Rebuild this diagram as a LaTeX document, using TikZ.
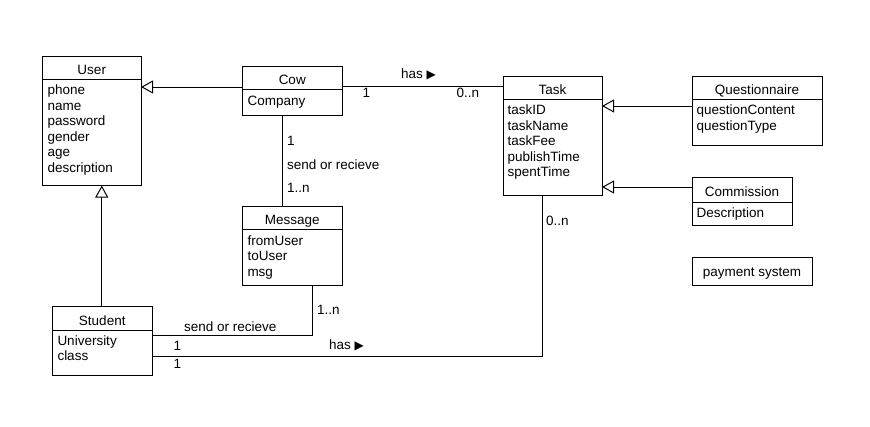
\documentclass[tikz,border=0pt]{standalone}
\usepackage{fontspec}
\setmainfont{Liberation Sans}
\newfontfamily\dv{DejaVu Sans}
\usetikzlibrary{arrows.meta}
\newcommand{\hasarrow}{{\dv\fontsize{12}{14}\selectfont ▶}}
\begin{document}
\begin{tikzpicture}[x=1pt,y=-1pt,
  every node/.style={font=\fontsize{13.5}{15.6}\selectfont, inner sep=0pt, outer sep=0pt},
  box/.style={draw, line width=1pt, rectangle, anchor=north west},
  ttl/.style={anchor=base},
  attr/.style={anchor=base west},
  lbl/.style={anchor=base west},
  conn/.style={line width=1pt},
  gen/.style={line width=1pt, -{Triangle[open,length=12pt,width=13pt,line width=1pt]}}
]
\useasboundingbox (0,0) rectangle (870,426);
\fill[white] (0,0) rectangle (870,426);

% User
\node[box, minimum width=98.5pt, minimum height=129.5pt] (user) at (42.5,56) {};
\draw[line width=1pt] (42.5,79) -- (141,79);
\node[ttl] (userT) at (91.75,74) {User};
\node[attr] (u1) at (47.5,94.5) {phone};
\node[attr] (u2) at (47.5,110.1) {name};
\node[attr] (u3) at (47.5,125.7) {password};
\node[attr] (u4) at (47.5,141.3) {gender};
\node[attr] (u5) at (47.5,156.9) {age};
\node[attr] (u6) at (47.5,172.5) {description};

% Cow
\node[box, minimum width=99.5pt, minimum height=49pt] (cow) at (242.5,66) {};
\draw[line width=1pt] (242.5,89) -- (342,89);
\node[ttl] (cowT) at (292.25,84) {Cow};
\node[attr] (c1) at (247.5,105) {Company};

% Task
\node[box, minimum width=99pt, minimum height=119pt] (task) at (503,76) {};
\draw[line width=1pt] (503,99) -- (602,99);
\node[ttl] (taskT) at (552.5,94) {Task};
\node[attr] (t1) at (507.5,114.5) {taskID};
\node[attr] (t2) at (507.5,130.1) {taskName};
\node[attr] (t3) at (507.5,145.7) {taskFee};
\node[attr] (t4) at (507.5,161.3) {publishTime};
\node[attr] (t5) at (507.5,176.9) {spentTime};

% Questionnaire
\node[box, minimum width=130pt, minimum height=69pt] (quest) at (692,76) {};
\draw[line width=1pt] (692,99) -- (822,99);
\node[ttl] (questT) at (757,94) {Questionnaire};
\node[attr] (q1) at (696.5,114.5) {questionContent};
\node[attr] (q2) at (696.5,130.1) {questionType};

% Commission
\node[box, minimum width=100pt, minimum height=48pt] (comm) at (692,177) {};
\draw[line width=1pt] (692,202) -- (792,202);
\node[ttl] (commT) at (742,196.5) {Commission};
\node[attr] (cm1) at (696.5,217.5) {Description};

% payment system
\node[box, minimum width=120pt, minimum height=28pt] (pay) at (692,257) {};
\node[ttl] (payT) at (752,276) {payment system};

% Message
\node[box, minimum width=99.5pt, minimum height=79pt] (msg) at (242.5,206) {};
\draw[line width=1pt] (242.5,229.3) -- (342,229.3);
\node[ttl] (msgT) at (292.25,224) {Message};
\node[attr] (m1) at (247.5,245) {fromUser};
\node[attr] (m2) at (247.5,260.5) {toUser};
\node[attr] (m3) at (247.5,276) {msg};

% Student
\node[box, minimum width=99.5pt, minimum height=68.5pt] (stud) at (52.5,306.5) {};
\draw[line width=1pt] (52.5,330) -- (152,330);
\node[ttl] (studT) at (102.25,325) {Student};
\node[attr] (s1) at (57.5,345) {University};
\node[attr] (s2) at (57.5,360.5) {class};

% connectors
\draw[gen] (cow.west |- 0,87) -- (user.east |- 0,87);
\draw[gen] (quest.west |- 0,106) -- (task.east |- 0,106);
\draw[gen] (comm.west |- 0,187) -- (task.east |- 0,187);
\draw[gen] (stud.north -| 101.75,0) -- (user.south -| 101.75,0);
\draw[conn] (cow.east |- 0,86) -- (task.west |- 0,86);
\draw[conn] (cow.south -| 282.5,0) -- (msg.north -| 282.5,0);
\draw[conn] (msg.south -| 312.7,0) |- (stud.east |- 0,335);
\draw[conn] (task.south -| 542.3,0) |- (stud.east |- 0,356);

% labels
\node[lbl] (l1) at (401,78) {has \hasarrow};
\node[lbl] (l2) at (362.5,97) {1};
\node[lbl] (l3) at (456.5,97) {0..n};
\node[lbl] (l4) at (287,145) {1};
\node[lbl] (l5) at (287,169.5) {send or recieve};
\node[lbl] (l6) at (287,192.5) {1..n};
\node[lbl] (l7) at (546,225) {0..n};
\node[lbl] (l8) at (317,314) {1..n};
\node[lbl] (l9) at (184,331.5) {send or recieve};
\node[lbl] (l10) at (173.5,350) {1};
\node[lbl] (l11) at (329,349.5) {has \hasarrow};
\node[lbl] (l12) at (173.5,368.5) {1};
\end{tikzpicture}
\end{document}
